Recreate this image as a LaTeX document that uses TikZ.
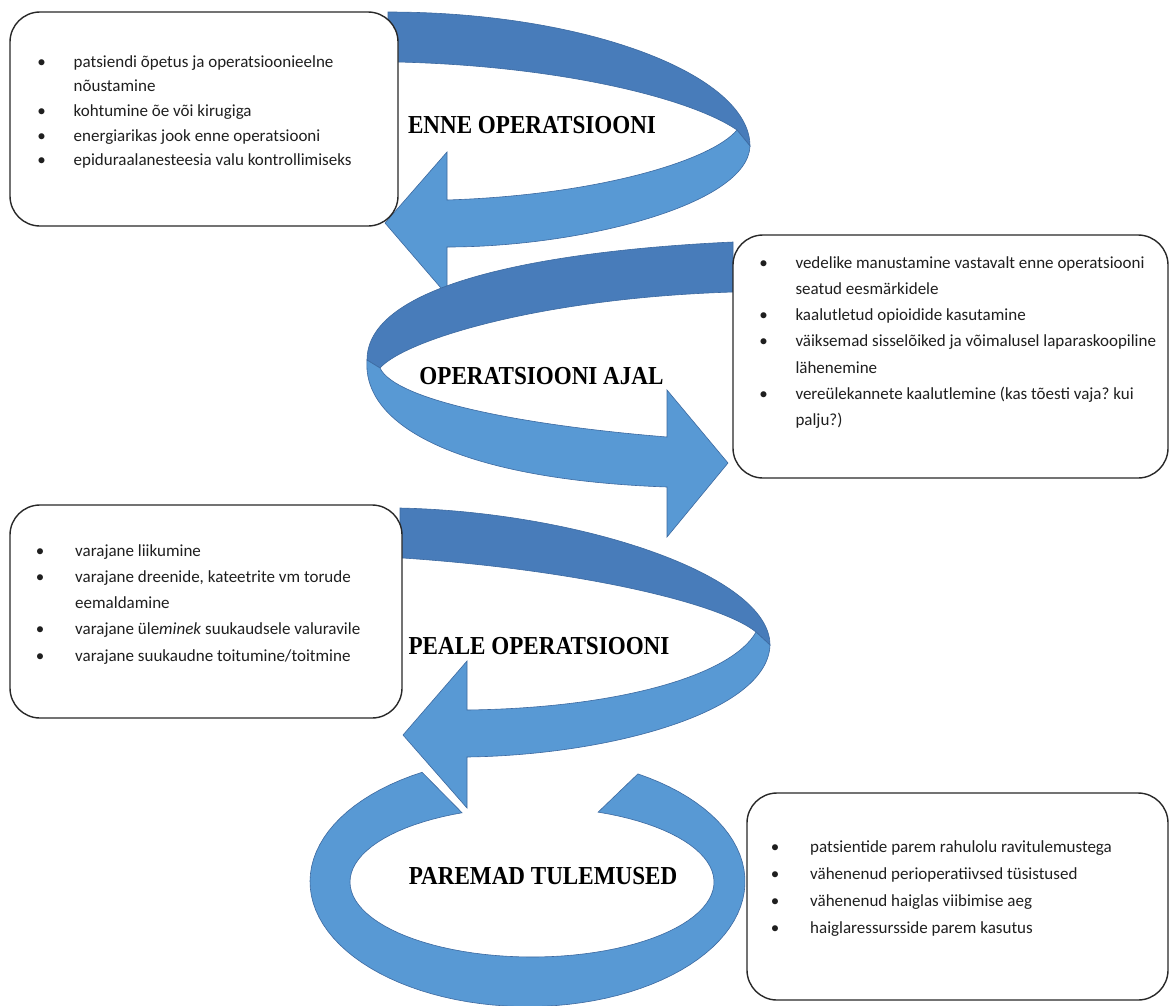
\documentclass[tikz,border=0pt]{standalone}
\usepackage{fontspec}
\usepackage{graphicx}
\setmainfont{Carlito}
\newfontfamily\headfont{Liberation Serif}
\frenchspacing
\definecolor{riblight}{RGB}{88,153,212}
\definecolor{ribdark}{RGB}{72,124,186}
\definecolor{ribline}{RGB}{60,105,160}
\definecolor{boxline}{RGB}{40,40,40}
\newlength\bulsep
\setlength\bulsep{32pt}
\newcommand{\bitem}{\makebox[0pt][c]{\textbullet}\hspace*{\bulsep}}
\newcommand{\bcont}{\hspace*{\bulsep}}
\tikzset{
  infobox/.style={draw=boxline, line width=1.4pt, rounded corners=30pt, fill=white, inner sep=0pt},
  backband/.style={fill=ribdark, draw=ribline, line width=0.6pt, line join=miter},
  frontband/.style={fill=riblight, draw=ribline, line width=0.6pt, line join=miter},
  headline/.style={font=\headfont\bfseries\fontsize{23.1}{26}\selectfont, anchor=base, inner sep=0pt, text=black},
  itemblock/.style={anchor=base west, inner sep=0pt, text=black!88},
}
\begin{document}
\begin{tikzpicture}[x=1pt,y=-1pt]
\useasboundingbox (0,0) rectangle (1170,1005);
\fill[white] (0,0) rectangle (1170,1005);

% ---- arrow 1 (before surgery)
\path[backband] (388,12) .. controls (587,12) and (750,75) .. (750,146)
  -- (737,130) .. controls (690,98) and (560,66) .. (398,62) -- (388,62) -- cycle;
\path[frontband] (750,146) .. controls (748,205) and (580,247) .. (447,247)
  -- (447,295) -- (385,223) -- (447,152) -- (447,200)
  .. controls (600,195) and (712,160) .. (737,130) -- cycle;

% ---- arrow 2 (during surgery)
\path[backband] (733,242) .. controls (560,250) and (367,280) .. (367,360)
  -- (380,368) .. controls (405,340) and (540,298) .. (733,292) -- cycle;
\path[frontband] (367,360) .. controls (362,430) and (470,480) .. (667,487)
  -- (667,537) -- (728,463) -- (667,390) -- (667,437)
  .. controls (520,425) and (395,400) .. (380,368) -- cycle;

% ---- ring (better results)
\path[frontband] plot[domain=-241:59.5, samples=90] ({527.5+217.5*cos(-\x)}, {881.6+125*sin(-\x)})
  -- plot[domain=-68.7:247.4, samples=90] ({532+182*cos(\x)}, {882+75*sin(\x)}) -- cycle;

% ---- arrow 3 (after surgery)
\path[backband] (400,508) .. controls (580,512) and (770,575) .. (770,645)
  -- (756,632) .. controls (720,603) and (580,570) .. (403,558) -- (400,558) -- cycle;
\path[frontband] (770,645) .. controls (768,712) and (610,755) .. (467,757)
  -- (467,808) -- (403,735) -- (467,661) -- (467,710)
  .. controls (620,708) and (732,675) .. (756,632) -- cycle;

% ---- boxes
\node[infobox, minimum width=388pt, minimum height=214pt] (box1) at (204,119) {};
\node[infobox, minimum width=435pt, minimum height=243pt] (box2) at (950.5,356.5) {};
\node[infobox, minimum width=392pt, minimum height=213pt] (box3) at (206,611.5) {};
\node[infobox, minimum width=421pt, minimum height=207pt] (box4) at (957.5,896.5) {};

% ---- box texts
\node[itemblock, font=\fontsize{17}{24.7}\selectfont] (txt1) at (41.5,67) {%
\begin{tabular}[t]{@{}l@{}}
\bitem patsiendi õpetus ja operatsioonieelne\\
\bcont nõustamine\\
\bitem kohtumine õe või kirugiga\\
\bitem energiarikas jook enne operatsiooni\\
\bitem epiduraalanesteesia valu kontrollimiseks
\end{tabular}};

\node[itemblock, font=\fontsize{17}{26.3}\selectfont] (txt2) at (763.3,268) {%
\begin{tabular}[t]{@{}l@{}}
\bitem vedelike manustamine vastavalt enne operatsiooni\\
\bcont seatud eesmärkidele\\
\bitem kaalutletud opioidide kasutamine\\
\bitem väiksemad sisselõiked ja võimalusel laparaskoopiline\\
\bcont lähenemine\\
\bitem vereülekannete kaalutlemine (kas tõesti vaja? kui\\
\bcont palju?)
\end{tabular}};

\node[itemblock, font=\fontsize{17}{26.3}\selectfont] (txt3) at (40,556) {%
\setlength\bulsep{35pt}%
\begin{tabular}[t]{@{}l@{}}
\bitem varajane liikumine\\
\bitem varajane dreenide, kateetrite vm torude\\
\bcont eemaldamine\\
\bitem varajane üle\textit{minek} suukaudsele valuravile\\
\bitem varajane suukaudne toitumine/toitmine
\end{tabular}};

\node[itemblock, font=\fontsize{17}{27}\selectfont] (txt4) at (775,852) {%
\setlength\bulsep{35pt}%
\begin{tabular}[t]{@{}l@{}}
\bitem patsientide parem rahulolu ravitulemustega\\
\bitem vähenenud perioperatiivsed tüsistused\\
\bitem vähenenud haiglas viibimise aeg\\
\bitem haiglaressursside parem kasutus
\end{tabular}};

% ---- headings
\node[headline] (h1) at (532,133) {\scalebox{1}[1.12]{ENNE OPERATSIOONI}};
\node[headline] (h2) at (541.5,384) {\scalebox{1}[1.12]{OPERATSIOONI AJAL}};
\node[headline] (h3) at (539,654) {\scalebox{1}[1.12]{PEALE OPERATSIOONI}};
\node[headline] (h4) at (543,884) {\scalebox{1}[1.12]{PAREMAD TULEMUSED}};
\end{tikzpicture}
\end{document}
